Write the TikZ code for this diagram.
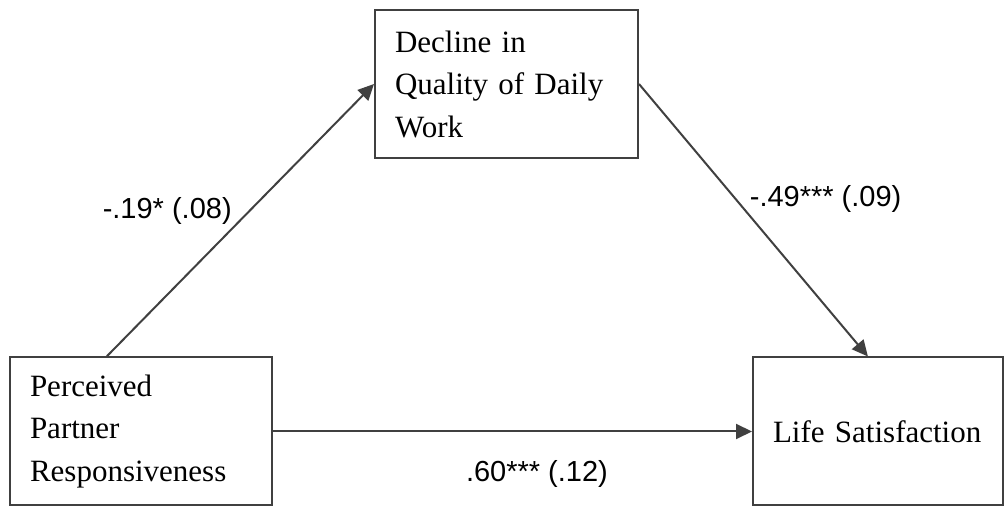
\documentclass[tikz,border=0pt]{standalone}
\usepackage{fontspec}
\setmainfont{Liberation Serif}
\newfontfamily\coeffont{Liberation Sans}
\usetikzlibrary{arrows.meta,calc}

\tikzset{
  varbox/.style={draw=black!75, line width=2pt, rectangle, align=left,
    inner xsep=20pt, minimum height=148pt,
    font=\fontsize{31}{42.5}\selectfont},
  path/.style={draw=black!75, line width=2pt,
    -{Triangle[length=16pt,width=15pt]}},
  coef/.style={inner sep=0pt, font=\coeffont\fontsize{29}{34}\selectfont}
}

\begin{document}
\begin{tikzpicture}[x=1pt,y=1pt]
\useasboundingbox (0,0) rectangle (1006,508);
% variables
\node[varbox, text width=223pt] (decline) at (506.5,424) {Decline in\\Quality of Daily\\Work};
\node[varbox, text width=222pt] (perceived) at (141,76.5) {Perceived\\Partner\\Responsiveness};
\node[varbox, text width=210pt] (life) at (878,76.5) {Life Satisfaction};
% paths
\draw[path] ($(perceived.north west)!0.37!(perceived.north east)$) -- (decline.west)
  node[coef, pos=0.535, anchor=east, xshift=-17pt] (a) {-.19* (.08)};
\draw[path] (decline.east) -- ($(life.north west)!0.46!(life.north east)$)
  node[coef, pos=0.423, anchor=west, xshift=13pt] (b) {-.49*** (.09)};
\draw[path] (perceived.east) -- (life.west)
  node[coef, pos=0.551, anchor=north, yshift=-28pt] (c) {.60*** (.12)};
\end{tikzpicture}
\end{document}
